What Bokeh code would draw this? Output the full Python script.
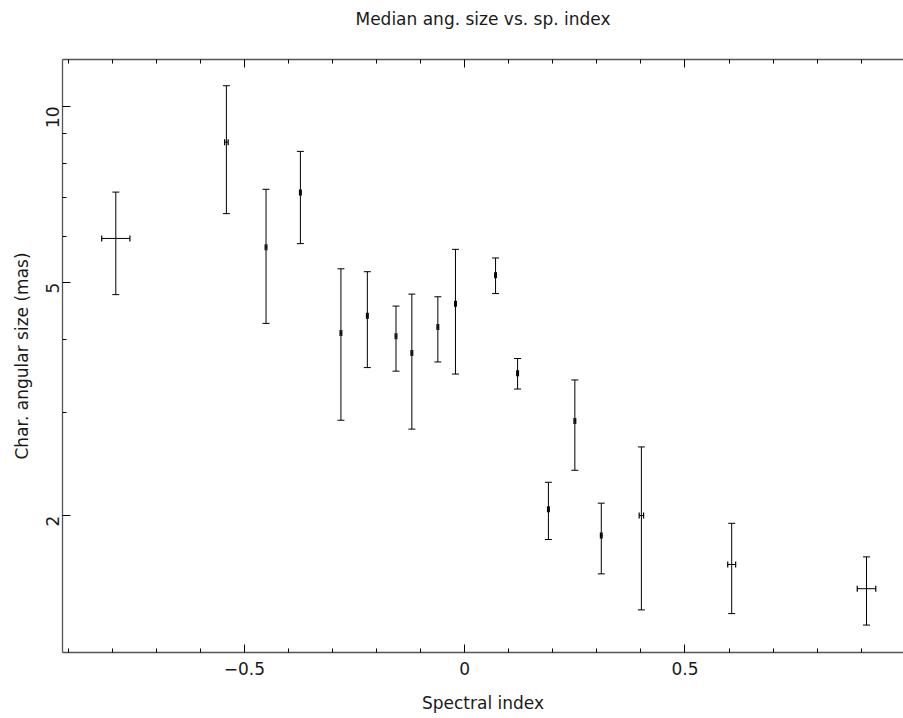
import math
from bokeh.plotting import figure
from bokeh.models import (ColumnDataSource, Whisker, TeeHead, LinearAxis, LogAxis,
                          FixedTicker, Range1d, CustomJSTickFormatter)
from bokeh.embed import file_html
from bokeh.resources import INLINE

# ---- data ----
spectral_index = [-0.792, -0.541, -0.451, -0.373, -0.281, -0.221, -0.156, -0.120, -0.061,
                  -0.021, 0.070, 0.120, 0.190, 0.250, 0.310, 0.401, 0.606, 0.912]
index_err = [0.032, 0.004, 0.002, 0.002, 0.002, 0.002, 0.002, 0.002, 0.002,
             0.002, 0.002, 0.002, 0.002, 0.002, 0.002, 0.005, 0.009, 0.021]
size_median = [5.95, 8.69, 5.75, 7.13, 4.10, 4.39, 4.05, 3.79, 4.20,
               4.60, 5.15, 3.50, 2.05, 2.90, 1.85, 2.00, 1.65, 1.50]
size_upper = [7.14, 10.85, 7.22, 8.38, 5.28, 5.22, 4.56, 4.78, 4.73,
              5.70, 5.51, 3.71, 2.28, 3.41, 2.10, 2.62, 1.94, 1.70]
size_lower = [4.77, 6.56, 4.26, 5.83, 2.91, 3.58, 3.53, 2.81, 3.66,
              3.49, 4.79, 3.29, 1.82, 2.39, 1.59, 1.38, 1.36, 1.30]

# (a tick exactly at 0 is dropped by the axis, so it sits a hair above 0)
x_major_ticks = [-0.5, 1e-12, 0.5, 1.0]
x_minor_ticks = [-0.9, -0.8, -0.7, -0.6, -0.4, -0.3, -0.2, -0.1,
                 0.1, 0.2, 0.3, 0.4, 0.6, 0.7, 0.8, 0.9]
y_major_ticks = [2, 5, 10]
y_minor_ticks = [3, 4, 6, 7, 8, 9]

title_text = "Median ang. size vs. sp. index"
x_label = "Spectral index"
y_label = "Char. angular size (mas)"

FONT = "DejaVu Sans"
TXT = "#1a1a1a"
FS = "17px"

src = ColumnDataSource(dict(
    x=spectral_index,
    y=size_median,
    hi=size_upper,
    lo=size_lower,
    xlo=[a - e for a, e in zip(spectral_index, index_err)],
    xhi=[a + e for a, e in zip(spectral_index, index_err)],
))

p = figure(width=903, height=718, output_backend="svg", toolbar_location=None,
           x_range=Range1d(-0.913, 0.996), y_range=Range1d(1.167, 12.03),
           y_axis_type="log", x_axis_location=None, y_axis_location=None,
           min_border_left=62, min_border_right=0, min_border_top=59,
           min_border_bottom=66, outline_line_color=None,
           background_fill_color="white", border_fill_color="white")
p.xgrid.visible = False
p.ygrid.visible = False

p.title.text = title_text
p.title.align = "center"
p.title.text_font = FONT
p.title.text_font_size = FS
p.title.text_font_style = "normal"
p.title.text_color = TXT
p.title.standoff = 0

xtick = FixedTicker(ticks=x_major_ticks, minor_ticks=x_minor_ticks)
ytick = FixedTicker(ticks=y_major_ticks, minor_ticks=y_minor_ticks)

xfmt = CustomJSTickFormatter(code="""
if (Math.abs(tick) < 1e-6) { return "0"; }
const s = String(Math.round(Math.abs(tick) * 10) / 10);
return (tick < 0 ? "\\u2212" : "") + s;
""")
yfmt = CustomJSTickFormatter(code="return String(Math.round(tick));")
blank = CustomJSTickFormatter(code="return '';")


def style(ax):
    ax.axis_line_color = "#555555"
    ax.axis_line_width = 1.3
    ax.major_tick_line_color = "black"
    ax.minor_tick_line_color = "black"
    ax.major_tick_in = 8
    ax.major_tick_out = 0
    ax.minor_tick_in = 4
    ax.minor_tick_out = 0
    ax.major_label_text_font = FONT
    ax.major_label_text_font_size = FS
    ax.major_label_text_color = TXT
    ax.axis_label_text_font = FONT
    ax.axis_label_text_font_size = FS
    ax.axis_label_text_font_style = "normal"
    ax.axis_label_text_color = TXT


bottom = LinearAxis(ticker=xtick, formatter=xfmt, axis_label=x_label)
style(bottom)
bottom.major_label_standoff = 9
bottom.axis_label_standoff = 15
p.add_layout(bottom, "below")

# top frame edge with inward ticks
top = LinearAxis(ticker=xtick, formatter=blank)
style(top)
top.major_label_text_font_size = "0px"
top.major_label_text_alpha = 0
top.major_label_standoff = 0
p.add_layout(top, "above")

# invisible spacer axis that lifts the title away from the frame
spacer = LinearAxis(ticker=xtick, formatter=blank)
spacer.axis_line_color = None
spacer.major_tick_line_color = None
spacer.minor_tick_line_color = None
spacer.major_tick_in = 0
spacer.major_tick_out = 31
spacer.minor_tick_in = 0
spacer.minor_tick_out = 0
spacer.major_label_text_font_size = "0px"
spacer.major_label_text_alpha = 0
spacer.major_label_standoff = 0
p.add_layout(spacer, "above")

left = LogAxis(ticker=ytick, formatter=yfmt, axis_label=y_label)
style(left)
left.major_label_orientation = math.pi / 2
left.major_label_standoff = 10
left.axis_label_standoff = 5
p.add_layout(left, "left")

# vertical error bars
p.add_layout(Whisker(source=src, base="x", upper="hi", lower="lo", dimension="height",
                     line_color="black", line_width=1,
                     upper_head=TeeHead(size=7, line_color="black", line_width=1),
                     lower_head=TeeHead(size=7, line_color="black", line_width=1)))
# horizontal error bars
p.add_layout(Whisker(source=src, base="y", upper="xhi", lower="xlo", dimension="width",
                     line_color="black", line_width=1,
                     upper_head=TeeHead(size=6, line_color="black", line_width=1.2),
                     lower_head=TeeHead(size=6, line_color="black", line_width=1.2)))

open("out.html", "w").write(file_html(p, INLINE))
